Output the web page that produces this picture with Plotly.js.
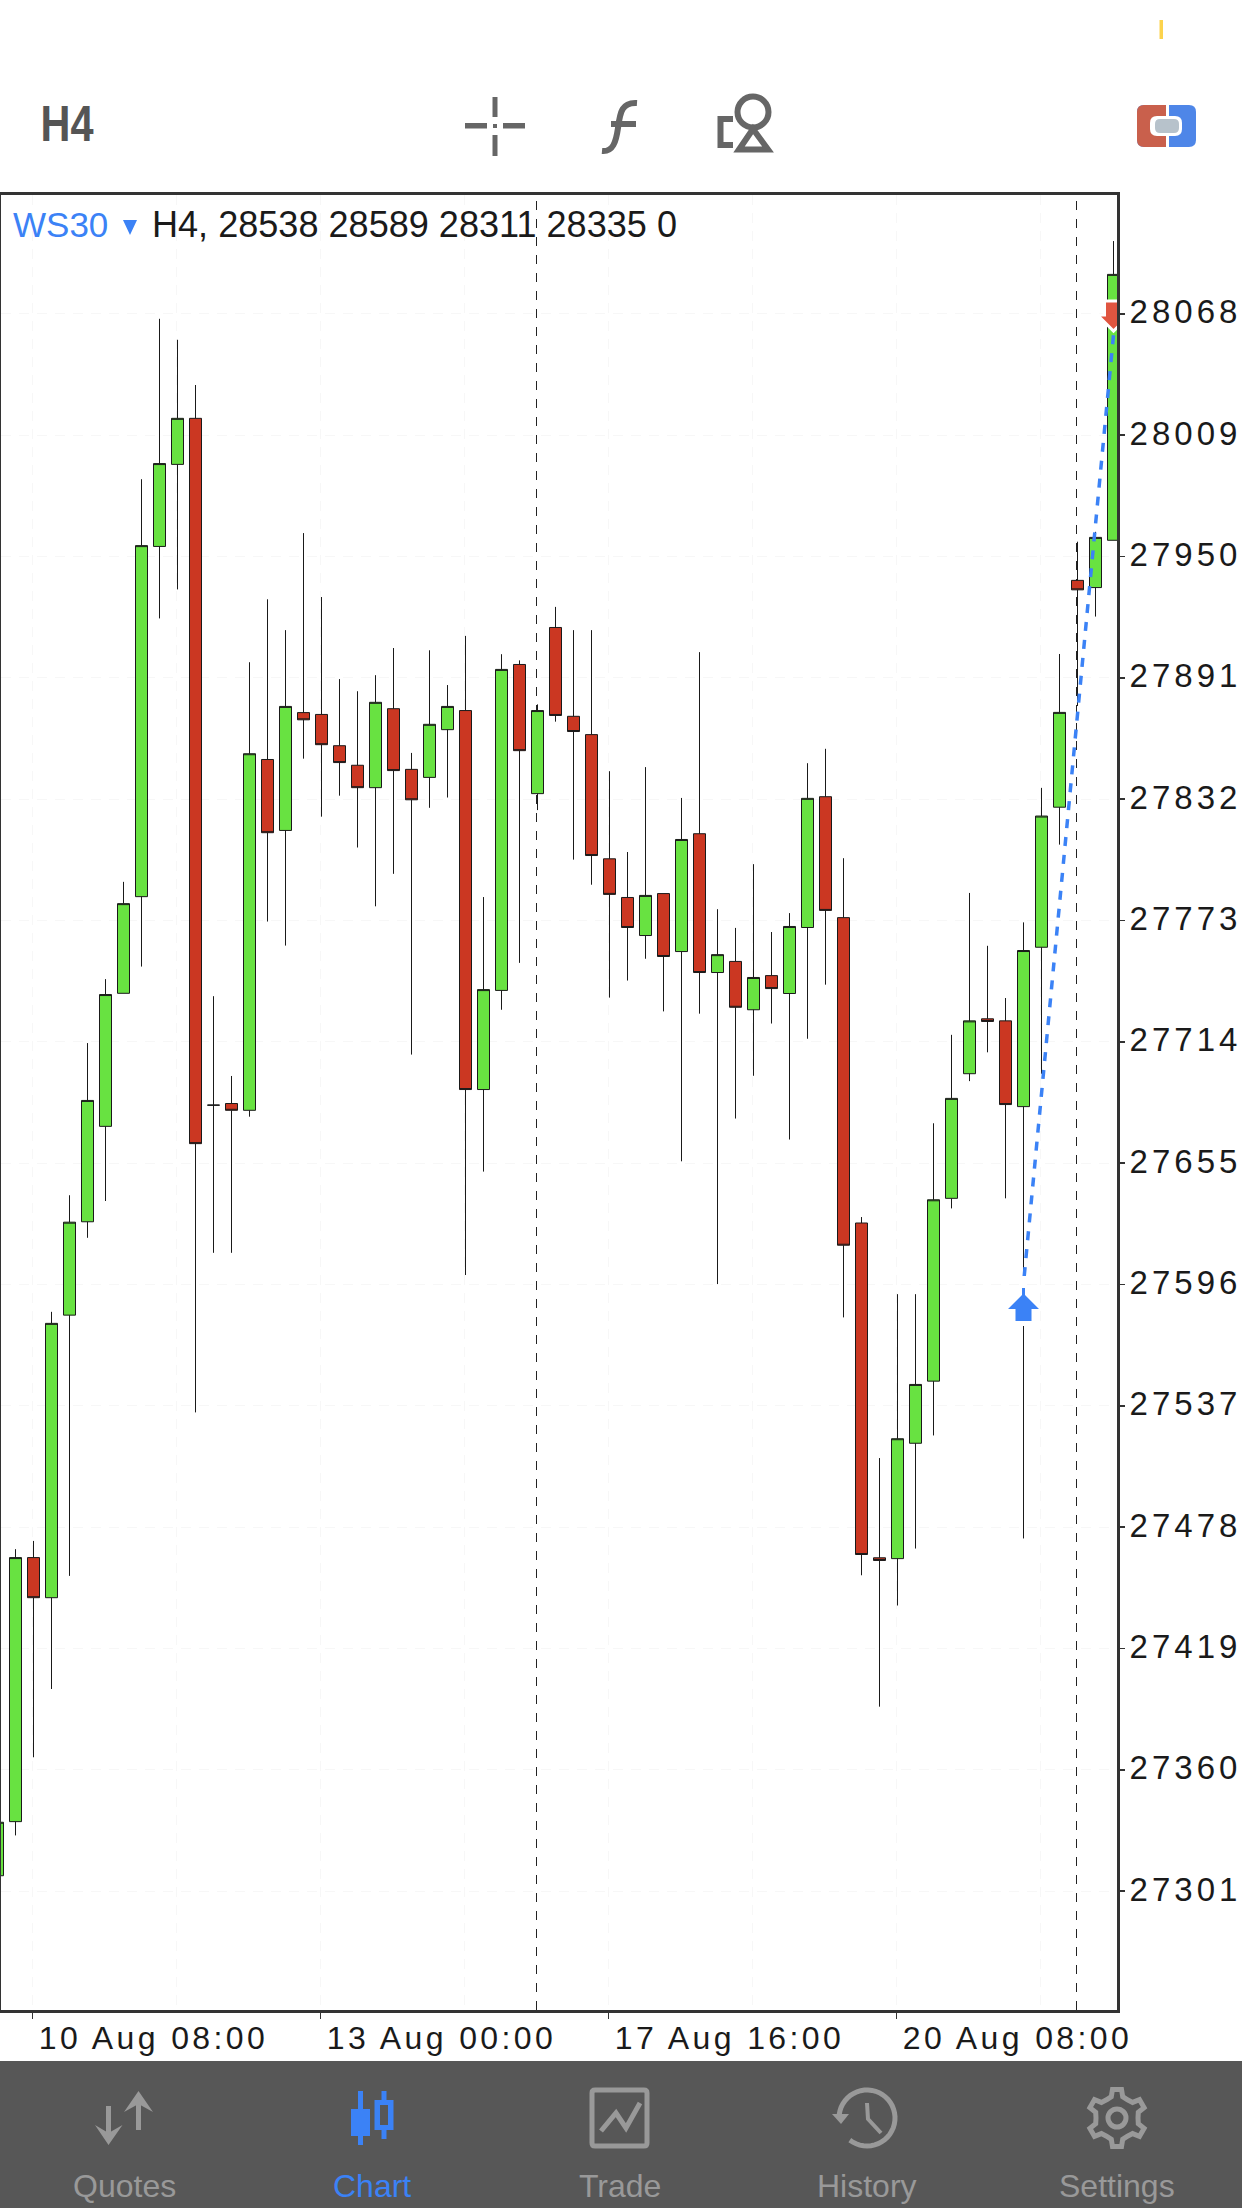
<!DOCTYPE html>
<html><head><meta charset="utf-8">
<style>
html,body{margin:0;padding:0;background:#fff;overflow:hidden}
#chart{width:1242px;height:2208px}
.ytick text{letter-spacing:4px}
.xtick text{letter-spacing:3.4px}
</style>
<script src="https://cdn.plot.ly/plotly-3.0.1.min.js"></script>
</head><body><div id="chart"></div>
<script>
// H4 bars. Index -> bar position on the axis.
var opens = [27308.5,27334.8,27463.2,27443.7,27581.1,27626.5,27672.9,27737.6,27784.6,27954.9,27994.8,28017.2,27683.2,27684.0,27680.7,27851.3,27816.8,27874.1,27873.2,27858.0,27848.5,27837.6,27876.0,27846.5,27842.6,27865.8,27875.1,27690.8,27739.0,27897.5,27834.7,27915.5,27872.3,27863.4,27803.0,27784.2,27765.7,27786.1,27757.9,27815.2,27747.7,27753.1,27729.6,27746.2,27737.5,27769.6,27833.2,27774.4,27625.9,27463.1,27462.7,27518.8,27549.0,27637.9,27698.5,27725.2,27724.2,27682.5,27760.0,27828.1,27938.4,27934.9,27957.9];
var highs = [27334.5,27467.3,27471.3,27582.7,27639.4,27713.4,27744.5,27791.8,27987.6,28065.6,28055.4,28033.4,27736.2,27697.4,27898.6,27929.2,27914.2,27961.4,27930.3,27890.4,27884.5,27892.3,27905.5,27854.5,27904.4,27887.5,27911.4,27784.4,27902.5,27899.5,27878.1,27925.5,27914.2,27914.2,27845.6,27806.3,27847.6,27786.1,27832.6,27903.5,27778.5,27769.4,27800.4,27767.4,27776.6,27849.5,27856.5,27803.3,27628.8,27511.6,27591.3,27591.3,27674.4,27717.4,27786.4,27760.7,27735.3,27772.1,27837.5,27902.6,27957.2,27962.0,28103.4];
var lows = [27308.5,27328.1,27366.1,27399.3,27454.3,27618.7,27636.6,27737.6,27750.6,27919.9,27934.0,27533.8,27611.4,27611.4,27677.6,27772.5,27760.8,27851.7,27823.5,27833.7,27808.5,27779.9,27795.7,27707.8,27827.8,27832.8,27600.6,27650.9,27729.6,27752.4,27826.7,27869.7,27802.6,27790.4,27735.5,27743.8,27754.4,27728.8,27655.9,27727.7,27596.2,27676.7,27697.5,27722.9,27666.5,27715.5,27741.8,27580.0,27454.6,27390.7,27439.9,27467.6,27522.6,27633.0,27694.9,27708.9,27637.9,27472.5,27698.5,27809.9,27877.3,27920.8,27957.9];
var closes = [27334.5,27463.2,27443.7,27577.1,27626.3,27685.5,27737.0,27781.2,27955.3,27995.2,28017.2,27664.5,27683.2,27680.7,27854.1,27815.7,27877.1,27870.6,27858.5,27849.8,27837.6,27879.1,27845.9,27831.7,27868.4,27877.1,27690.8,27739.4,27895.1,27855.6,27875.1,27872.7,27864.9,27804.6,27785.7,27769.6,27785.2,27755.5,27812.4,27747.7,27756.4,27730.8,27745.3,27739.9,27770.1,27832.4,27777.9,27615.1,27464.7,27461.8,27521.0,27547.4,27637.2,27686.5,27724.2,27723.9,27683.5,27758.4,27823.8,27874.2,27933.8,27959.3,28087.2];
var barIndex = opens.map(function(_, i){ return i; });

var priceTicks = [28068,28009,27950,27891,27832,27773,27714,27655,27596,27537,27478,27419,27360,27301];
var timeTickBars = [2,18,34,50];
var timeTickLabels = ['10 Aug 08:00','13 Aug 00:00','17 Aug 16:00','20 Aug 08:00'];
var halfTickBars = [10,26,42,58];
var separatorBars = [30,60];
var tradeBars = [57.04,62];
var tradePrices = [27600.1,28057.7];
var buyMark = {bar:57, price:27594.3};
var sellMark = {bar:62, price:28060.6};
var headerSymbol = 'WS30';
var headerText = 'H4, 28538 28589 28311 28335 0';
var tabLabels = ['Quotes','Chart','Trade','History','Settings'];
var tabCentres = [124,372,620,867,1117];

var W=1242, H=2208;
var plotL=1, plotR=1117, plotT=195, plotB=2010;
var barNudge=-1/18;
var FONT='"Liberation Sans", Arial, sans-serif';
var GREY='#666666', TAB='#999999', BLUE='#3B82F6', FAINT='#f7f7f7';

function X(v){return v/W;} function Y(v){return 1-v/H;}
function P(s){var t=s.trim().split(/\s+/),o=[],isX=true;
  t.forEach(function(k){ if(/^[A-Za-z]$/.test(k)){o.push(k);isX=true;} else {o.push(isX?X(+k):Y(+k));isX=!isX;} });
  return o.join(' ');}
function pg(path,opt){opt=opt||{};return {type:'path',xref:'paper',yref:'paper',path:P(path),layer:'above',
  line:{color:opt.color||GREY,width:opt.width===undefined?5:opt.width},fillcolor:opt.fill||'rgba(0,0,0,0)'};}
function rect(x0,y0,x1,y1,fill){return {type:'rect',xref:'paper',yref:'paper',x0:X(x0),x1:X(x1),y0:Y(y0),y1:Y(y1),layer:'above',line:{width:0},fillcolor:fill};}
function circ(cx,cy,r,col,w,fill){return {type:'circle',xref:'paper',yref:'paper',x0:X(cx-r),x1:X(cx+r),y0:Y(cy-r),y1:Y(cy+r),layer:'above',line:{color:col,width:w},fillcolor:fill||'rgba(0,0,0,0)'};}
function arc(cx,cy,r,a0,a1){var s='',n=40;for(var i=0;i<=n;i++){var a=(a0+(a1-a0)*i/n)*Math.PI/180;s+=(i?'L ':'M ')+(cx+r*Math.cos(a)).toFixed(1)+' '+(cy+r*Math.sin(a)).toFixed(1)+' ';}return s;}
function rrect(x0,y0,x1,y1,r){return 'M '+(x0+r)+' '+y0+' L '+(x1-r)+' '+y0+' Q '+x1+' '+y0+' '+x1+' '+(y0+r)+' L '+x1+' '+(y1-r)+' Q '+x1+' '+y1+' '+(x1-r)+' '+y1+' L '+(x0+r)+' '+y1+' Q '+x0+' '+y1+' '+x0+' '+(y1-r)+' L '+x0+' '+(y0+r)+' Q '+x0+' '+y0+' '+(x0+r)+' '+y0+' Z';}
function gear(cx,cy){var s='',pts=[];for(var k=0;k<6;k++){var c=-90+60*k;[[-30,21],[-15,22],[-9,29],[9,29],[15,22]].forEach(function(q){pts.push([c+q[0],q[1]]);});}
  pts.forEach(function(q,i){var a=q[0]*Math.PI/180;s+=(i?'L ':'M ')+(cx+q[1]*Math.cos(a)).toFixed(1)+' '+(cy+q[1]*Math.sin(a)).toFixed(1)+' ';});return s+'Z';}

var shapes=[];
// period separators
separatorBars.forEach(function(b){shapes.push({type:'line',xref:'x',yref:'y domain',x0:b+barNudge,x1:b+barNudge,y0:0,y1:1,layer:'below',line:{color:'#222222',width:1,dash:'9px,9px'}});});
// status bar dot
shapes.push(rect(1159.5,20,1163,39,'#FCD34D'));
// toolbar: crosshair
shapes.push(rect(465,123,487,128.5,GREY),rect(503,123,525,128.5,GREY),rect(492.5,97,497.5,117,GREY),rect(492.5,135,497.5,156,GREY),rect(493,124,497,128,GREY));
// toolbar: function
shapes.push(pg('M 602 151 C 613 152 616 142 618 128 C 620 112 622 102 637 103',{width:6}),pg('M 611 124 L 636 124',{width:6}));
// toolbar: objects
shapes.push(pg('M 733 119 L 720.5 119 L 720.5 145 L 733 145',{width:6}));
shapes.push(circ(753,112,15.5,GREY,6,'#ffffff'));
shapes.push(pg('M 753 129 L 768 149.5 L 739 149.5 Z',{fill:'#ffffff',width:6}));
// toolbar: account switch
shapes.push(pg(rrect(1137,105,1196,147,7),{color:'rgba(0,0,0,0)',width:0,fill:'#4E86E8'}));
shapes.push(pg('M 1166 105 L 1144 105 Q 1137 105 1137 112 L 1137 140 Q 1137 147 1144 147 L 1166 147 Z',{width:0,color:'rgba(0,0,0,0)',fill:'#C9604C'}));
shapes.push(rect(1166,105,1169,147,'#ffffff'));
shapes.push(pg(rrect(1150,116,1182,136,7),{width:0,color:'rgba(0,0,0,0)',fill:'#ffffff'}));
shapes.push(pg(rrect(1155,119,1179,133,5),{width:0,color:'rgba(0,0,0,0)',fill:'#B7C2CB'}));
// header triangle
shapes.push(pg('M 123 220 L 137 220 L 130 235 Z',{width:0,color:'rgba(0,0,0,0)',fill:BLUE}));
// trade arrows, anchored on the price scale
shapes.push({type:'path',xref:'x',yref:'y',xsizemode:'pixel',ysizemode:'pixel',xanchor:buyMark.bar,yanchor:buyMark.price,layer:'above',line:{width:0},fillcolor:'#ffffff',path:'M -3 12 L 3 12 L 3 -38 L -3 -38 Z'});
shapes.push({type:'path',xref:'x',yref:'y',xsizemode:'pixel',ysizemode:'pixel',xanchor:buyMark.bar,yanchor:buyMark.price,layer:'above',line:{width:0},fillcolor:BLUE,path:'M -1.5 0 L 1.5 0 L 1.5 -7 L 15.5 -21 L 8 -21 L 8 -33 L -8 -33 L -8 -21 L -15.5 -21 L -1.5 -7 Z'});
shapes.push({type:'path',xref:'x',yref:'y',xsizemode:'pixel',ysizemode:'pixel',xanchor:sellMark.bar,yanchor:sellMark.price,layer:'above',line:{color:'#ffffff',width:3},fillcolor:'#E05540',path:'M 0 -2 L 16 14 L 9 14 L 9 28 L -9 28 L -9 14 L -16 14 Z'});
// bottom tab bar
var barShapes=[];
barShapes.push({type:'rect',xref:'paper',yref:'paper',x0:0,x1:1,y0:Y(2208),y1:Y(2061),layer:'above',line:{width:0},fillcolor:'#575757'});
// quotes
barShapes.push(rect(106,2106,111,2135,TAB),rect(136,2100,141,2130,TAB));
barShapes.push(pg('M 95 2125 L 108.5 2145 L 122.5 2125 L 108.5 2133 Z',{width:0,color:'rgba(0,0,0,0)',fill:TAB}));
barShapes.push(pg('M 124 2112 L 138.5 2091 L 153 2112 L 138.5 2104 Z',{width:0,color:'rgba(0,0,0,0)',fill:TAB}));
// chart
barShapes.push(rect(358,2091,363,2145,BLUE),rect(351,2109,370,2136,BLUE),rect(381.5,2091,386.5,2139,BLUE));
barShapes.push(rect(374.5,2100,393.5,2130,BLUE),rect(380,2105,388,2125,'#575757'));
// trade
barShapes.push(pg(rrect(592,2090,647,2146,3),{color:TAB,width:5}));
barShapes.push(pg('M 601 2131 L 616 2113 L 626 2128 L 640 2103',{color:TAB,width:5}));
// history
barShapes.push(pg(arc(867,2118,28,180,488),{color:TAB,width:5}));
barShapes.push(pg('M 832 2114 L 849 2114 L 841 2124 Z',{width:0,color:'rgba(0,0,0,0)',fill:TAB}));
barShapes.push(pg('M 867 2103 L 868 2119 L 881 2133',{color:TAB,width:4}));
// settings
barShapes.push(pg(gear(1117,2118),{color:TAB,width:5}));
barShapes.push(circ(1117,2118,9,TAB,5));
shapes=shapes.concat(barShapes);

var ann=[
 {text:headerSymbol,x:X(12),y:Y(225),color:BLUE,size:35,xa:'left'},
 {text:headerText,x:X(150.5),y:Y(225),color:'#1a1a1a',size:36.1,xa:'left'},
 {text:'H4',x:X(34),y:Y(124),color:'#555555',size:50,xa:'left',weight:700}
].map(function(a){return {text:a.text,xref:'paper',yref:'paper',x:a.x,y:a.y,xanchor:a.xa,yanchor:'middle',showarrow:false,borderpad:0,font:{family:FONT,size:a.size,color:a.color,weight:a.weight||400}};});
tabLabels.forEach(function(t,i){ann.push({text:t,xref:'paper',yref:'paper',x:X(tabCentres[i]),y:Y(2186),xanchor:'center',yanchor:'middle',showarrow:false,borderpad:0,font:{family:FONT,size:32,color:t==='Chart'?BLUE:TAB}});});

var traces=[
 {type:'candlestick',x:barIndex,open:opens,high:highs,low:lows,close:closes,whiskerwidth:0,hoverinfo:'skip',showlegend:false,
  increasing:{line:{color:'#1a1a1a',width:1},fillcolor:'#68E241'},
  decreasing:{line:{color:'#1a1a1a',width:1},fillcolor:'#CB3722'}},
 {type:'scatter',mode:'lines',x:tradeBars,y:tradePrices,hoverinfo:'skip',showlegend:false,line:{color:BLUE,width:3.5,dash:'9px,9px'}}
];

var layout={
 width:W,height:H,margin:{l:0,r:0,t:0,b:0,pad:0},
 paper_bgcolor:'#ffffff',plot_bgcolor:'#ffffff',showlegend:false,boxgap:1/3,boxgroupgap:0,
 xaxis:{domain:[plotL/W,plotR/W],range:[(plotL+2.5)/18,(plotR+2.5)/18],type:'linear',rangeslider:{visible:false},
  tickmode:'array',tickvals:timeTickBars.map(function(b){return b+barNudge;}),ticktext:timeTickLabels,
  ticks:'outside',ticklen:6,tickwidth:1.5,tickcolor:'#333333',ticklabelshift:121,ticklabelstandoff:-8,ticklabeloverflow:'allow',
  tickfont:{family:FONT,size:32,color:'#1a1a1a'},
  showline:true,mirror:true,linecolor:'#333333',linewidth:3,zeroline:false,fixedrange:true,
  showgrid:true,gridcolor:FAINT,griddash:'10px,8px',gridwidth:1,
  minor:{tickmode:'array',tickvals:halfTickBars.map(function(b){return b+barNudge;}),ticks:'',showgrid:true,gridcolor:FAINT,griddash:'10px,8px',gridwidth:1}},
 yaxis:{domain:[1-plotB/H,1-plotT/H],range:[27243.2,28125.8],side:'right',
  tickmode:'array',tickvals:priceTicks,ticktext:priceTicks.map(String),
  ticks:'outside',ticklen:5,tickwidth:1.5,tickcolor:'#333333',ticklabelstandoff:-2,ticklabelshift:-2,
  tickfont:{family:FONT,size:33,color:'#1a1a1a'},
  showline:true,mirror:true,linecolor:'#333333',linewidth:3,zeroline:false,fixedrange:true,
  showgrid:true,gridcolor:FAINT,griddash:'10px,8px',gridwidth:1},
 shapes:shapes,annotations:ann
};
Plotly.newPlot('chart',traces,layout,{staticPlot:true,displayModeBar:false,responsive:false}).then(function(){
  // the toolbar label is a narrow face in the reference: squeeze the real text to the same width
  document.querySelectorAll('.annotation-text').forEach(function(t){
    if(t.textContent==='H4'){t.setAttribute('textLength','53');t.setAttribute('lengthAdjust','spacingAndGlyphs');}
  });
});
</script></body></html>
